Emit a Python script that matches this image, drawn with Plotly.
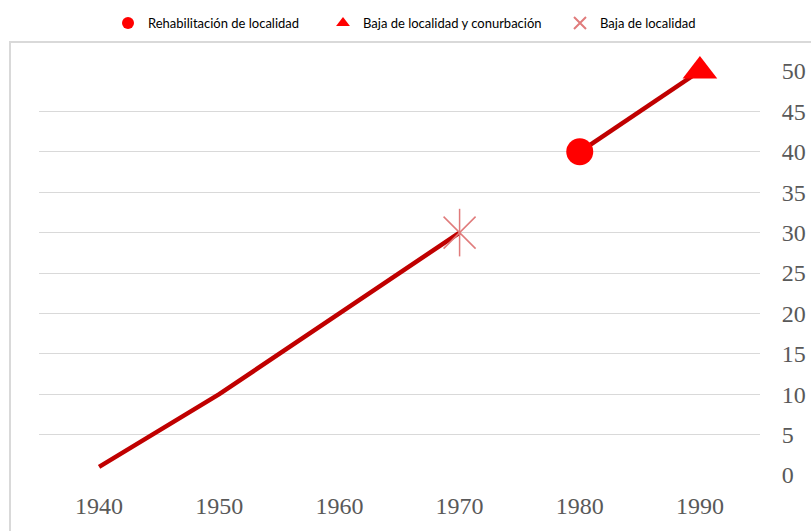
import plotly.graph_objects as go

years = ["1940", "1950", "1960", "1970", "1980", "1990"]
segment_a = [1, 10, 20, 30, None, None]
segment_b = [None, None, None, None, 40, 50]
rehab_year = ["1980"]
rehab_value = [40]
baja_conurb_year = ["1990"]
baja_conurb_value = [50]
baja_year = ["1970"]
baja_value = [30]
y_ticks = [0, 5, 10, 15, 20, 25, 30, 35, 40, 45, 50]

LINE = "#C00000"
RED = "#FF0000"
STAR = "#E07B7B"

fig = go.Figure()
fig.add_trace(go.Scatter(x=years, y=segment_a, mode="lines", line=dict(color=LINE, width=4.5),
                         showlegend=False, cliponaxis=False, hoverinfo="skip"))
fig.add_trace(go.Scatter(x=years, y=segment_b, mode="lines", line=dict(color=LINE, width=4.5),
                         showlegend=False, cliponaxis=False, hoverinfo="skip"))
fig.add_trace(go.Scatter(x=rehab_year, y=rehab_value, mode="markers", name="Rehabilitación de localidad",
                         marker=dict(symbol="circle", size=27, color=RED, line=dict(width=0)),
                         cliponaxis=False, legend="legend"))
fig.add_trace(go.Scatter(x=baja_conurb_year, y=baja_conurb_value, mode="markers",
                         name="Baja de localidad y conurbación",
                         marker=dict(symbol="triangle-up", size=30, color=RED, line=dict(width=0)),
                         cliponaxis=False, legend="legend2"))
fig.add_trace(go.Scatter(x=baja_year, y=baja_value, mode="markers", name="Baja de localidad",
                         marker=dict(symbol="x-thin-open", size=32, color=STAR,
                                     line=dict(width=1.5, color=STAR)),
                         cliponaxis=False, legend="legend3"))
fig.add_trace(go.Scatter(x=baja_year, y=baja_value, mode="markers", showlegend=False,
                         marker=dict(symbol="line-ns-open", size=34, color=STAR,
                                     line=dict(width=1.5, color=STAR)),
                         cliponaxis=False, hoverinfo="skip"))

L, R, T, B = 39, 51, 71, 56
W, H = 811, 531
pw = W - L - R
ph = H - T - B

fig.add_shape(type="rect", xref="paper", yref="paper",
              x0=(10 - L) / pw, x1=(W + 5 - L) / pw,
              y0=-(B + 5) / ph, y1=(H - B - 42) / ph,
              line=dict(color="#D9D9D9", width=2), fillcolor="rgba(0,0,0,0)", layer="below")


def leg(px):
    return dict(orientation="h", x=(px - 20 - L) / pw, xanchor="left",
                y=(H - B - 8) / ph, yanchor="top",
                font=dict(size=13, color="#000000", family="Lato, sans-serif"),
                bgcolor="rgba(0,0,0,0)", borderwidth=0, itemsizing="constant")


fig.update_layout(
    template="none",
    width=W, height=H,
    margin=dict(l=L, r=R, t=T, b=B, autoexpand=False),
    paper_bgcolor="white", plot_bgcolor="white",
    font=dict(family="Liberation Serif, serif", color="#595959"),
    legend=leg(128), legend2=leg(343), legend3=leg(580),
    xaxis=dict(type="category", range=[-0.5, 5.5], showgrid=False, zeroline=False, showline=False,
               automargin=False,
               ticks="outside", ticklen=9, tickcolor="rgba(0,0,0,0)",
               tickfont=dict(size=24, color="#595959")),
    yaxis=dict(side="right", range=[0, 50], tickvals=y_ticks, showgrid=True, gridcolor="#D9D9D9",
               gridwidth=1, zeroline=False, showline=False, automargin=False,
               ticks="outside", ticklen=16, tickcolor="rgba(0,0,0,0)",
               tickfont=dict(size=24, color="#595959")),
)

fig.write_html("out.html", config={"displayModeBar": False},
               post_script="document.body.style.margin='0px';document.body.style.overflow='hidden';")
